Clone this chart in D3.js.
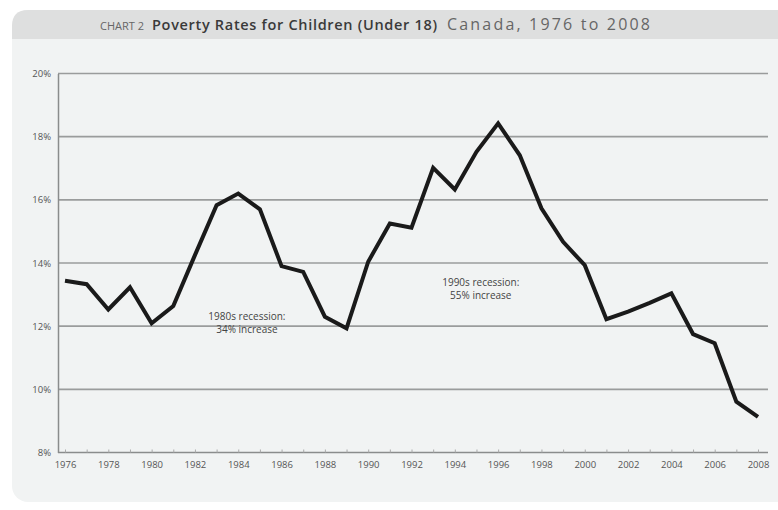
<!DOCTYPE html>
<html><head><meta charset="utf-8">
<script src="https://cdn.jsdelivr.net/npm/d3@7"></script>
<style>body{margin:0;background:#fff;}svg{display:block;font-family:"Open Sans",sans-serif;}</style>
</head><body><svg id="c" width="778" height="510"></svg>
<script>
const years = d3.range(1976, 2009);
const rates = [13.44,13.33,12.53,13.23,12.09,12.64,14.25,15.83,16.20,15.70,13.90,13.72,12.30,11.93,14.04,15.25,15.12,17.01,16.33,17.52,18.42,17.41,15.73,14.67,13.93,12.22,12.46,12.74,13.04,11.75,11.46,9.61,9.13];
const yTicks = [8,10,12,14,16,18,20];
const xTickLabels = d3.range(1976, 2009, 2);
const notes = [
  {year:1984.4, value:12.2, lines:["1980s recession:","34% increase"]},
  {year:1995.2, value:13.28, lines:["1990s recession:","55% increase"]}
];
const titleParts = [
  {text:"CHART 2", x:100, len:44, size:11, weight:400, color:"#666"},
  {text:"Poverty Rates for Children (Under 18)", x:152, len:285, size:14.5, weight:600, color:"#3a3a3a"},
  {text:"Canada, 1976 to 2008", x:447, len:203, size:16, weight:400, color:"#666"}
];

const svg = d3.select("#c");
// panel
svg.append("rect").attr("x",12).attr("y",10).attr("width",790).attr("height",492).attr("rx",16).attr("fill","#f1f3f3");
svg.append("path").attr("d","M12,39 V26 Q12,10 28,10 H778 V39 Z").attr("fill","#dedfdf");
svg.append("g").selectAll("text").data(titleParts).join("text")
  .attr("x",d=>d.x).attr("y",30).attr("font-size",d=>d.size).attr("font-weight",d=>d.weight)
  .attr("fill",d=>d.color).attr("textLength",d=>d.len).attr("lengthAdjust","spacing").text(d=>d.text);

const x = d3.scaleLinear().domain([1976,2008]).range([65,758]);
const y = d3.scaleLinear().domain([8,20]).range([452.5,73.5]);

// gridlines
svg.append("g").selectAll("line").data(yTicks.slice(1)).join("line")
  .attr("x1",58).attr("x2",768).attr("y1",d=>y(d)).attr("y2",d=>y(d))
  .attr("stroke","#9a9c9c").attr("stroke-width",1.6);

// y axis
const ya = svg.append("g").attr("transform","translate(58,0)")
  .call(d3.axisLeft(y).tickValues(yTicks).tickSize(0).tickPadding(7).tickFormat(d=>d+"%"));
ya.select(".domain").attr("stroke","#8a8c8c").attr("stroke-width",1.5);
ya.selectAll("text").attr("font-size",9.5).attr("fill","#555").attr("font-family","Open Sans");

// x axis
const xa = svg.append("g").attr("transform","translate(0,452.5)")
  .call(d3.axisBottom(x).tickValues(years).tickSize(-3).tickPadding(9).tickFormat(d=>xTickLabels.includes(d)?String(d):"").tickSizeOuter(0));
xa.select(".domain").attr("d","M58,0H768").attr("stroke","#8a8c8c").attr("stroke-width",1.5);
xa.selectAll(".tick line").attr("stroke","#aaa");
xa.selectAll("text").attr("font-size",9.5).attr("fill","#555").attr("font-family","Open Sans");

// line
svg.append("path").datum(rates)
  .attr("d", d3.line().x((d,i)=>x(years[i])).y(d=>y(d)))
  .attr("fill","none").attr("stroke","#1a1a1a").attr("stroke-width",4).attr("stroke-linejoin","miter");

// annotations
notes.forEach(n=>{
  n.lines.forEach((l,i)=>svg.append("text").attr("text-anchor","middle").attr("font-size",10).attr("fill","#444")
    .attr("x",x(n.year)).attr("y",y(n.value)+i*13).text(l));
});
</script></body></html>
